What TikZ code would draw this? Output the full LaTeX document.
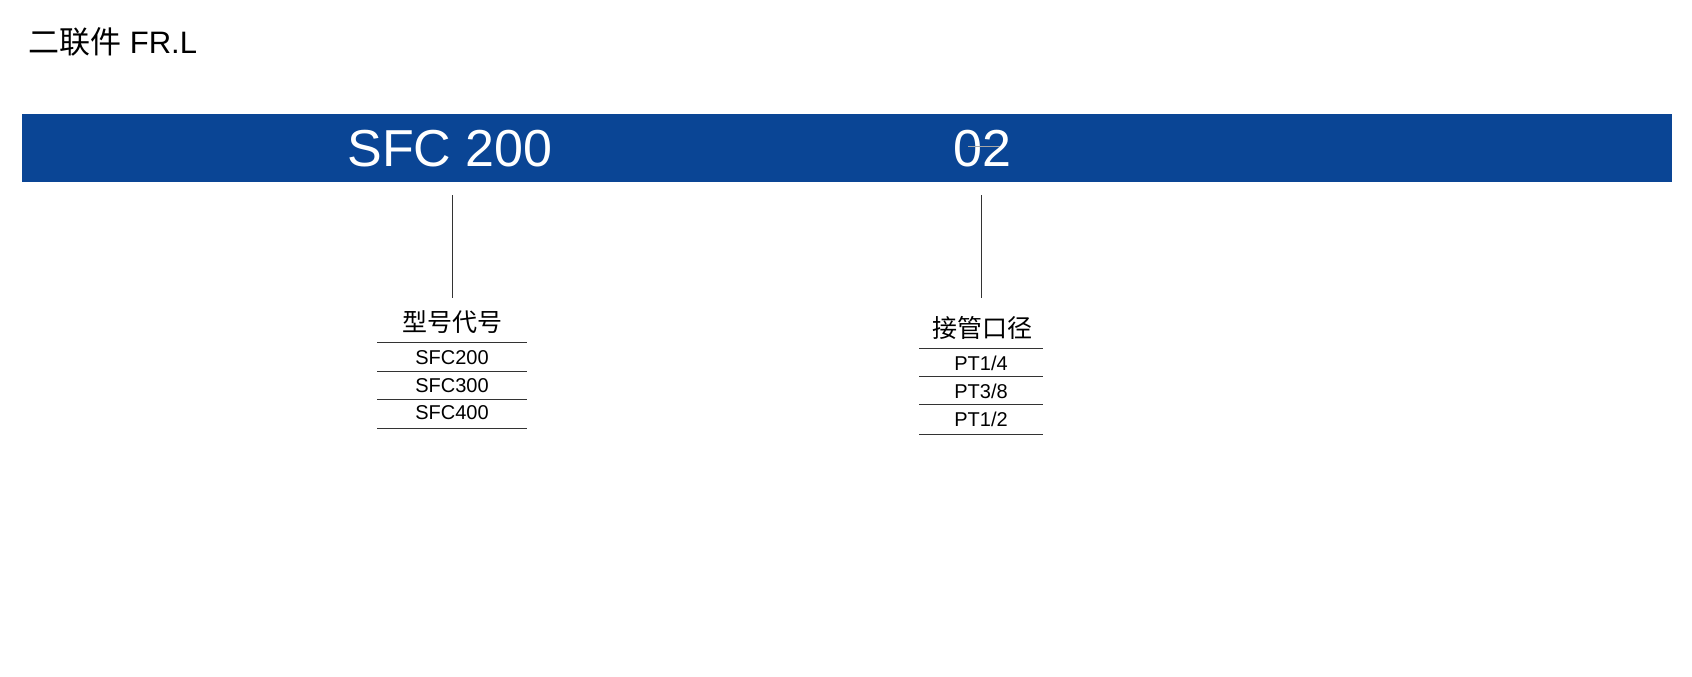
\documentclass[tikz,border=0pt]{standalone}
\usepackage{fontspec}
\setmainfont{Liberation Sans}
\newfontfamily\cjk{Noto Sans CJK SC}
\definecolor{barblue}{HTML}{0A4595}
\begin{document}
\begin{tikzpicture}[x=1pt,y=-1pt,
  rule/.style={draw=black!80,line width=0.8pt},
  item/.style={font=\fontsize{20}{20}\selectfont,inner sep=0pt},
  head/.style={font=\cjk\fontsize{25}{25}\selectfont,inner sep=0pt}]
\useasboundingbox (0,0) rectangle (1692,677);
\node[anchor=west,inner sep=0pt,font=\fontsize{31}{31}\selectfont] (title) at (28,42) {{\cjk 二联件} FR.L};
\fill[barblue] (22,114) rectangle (1672,182);
\node[text=white,inner sep=0pt,font=\fontsize{52}{52}\selectfont] (m) at (450,149) {SFC 200};
\node[text=white,inner sep=0pt,font=\fontsize{52}{52}\selectfont] (p) at (982,149) {02};
\draw[gray!70,line width=0.7pt] (968,146) -- (1000,146);
\coordinate (m1) at (452,195); \coordinate (m2) at (452,298);
\coordinate (p1) at (981,195); \coordinate (p2) at (981,298);
\draw[black!80,line width=0.8pt] (m1) -- (m2);
\draw[black!80,line width=0.8pt] (p1) -- (p2);
\node[head] (h1) at (452,322) {型号代号};
\foreach \y in {342,371,399,428} \draw[rule] (377,\y) -- (527,\y);
\node[item] (a1) at (452,358) {SFC200};
\node[item] (a2) at (452,386) {SFC300};
\node[item] (a3) at (452,413) {SFC400};
\node[head] (h2) at (982,328) {接管口径};
\foreach \y in {348,376,404,434} \draw[rule] (919,\y) -- (1043,\y);
\node[item] (b1) at (981,363) {PT1/4};
\node[item] (b2) at (981,391) {PT3/8};
\node[item] (b3) at (981,419) {PT1/2};
\end{tikzpicture}
\end{document}
